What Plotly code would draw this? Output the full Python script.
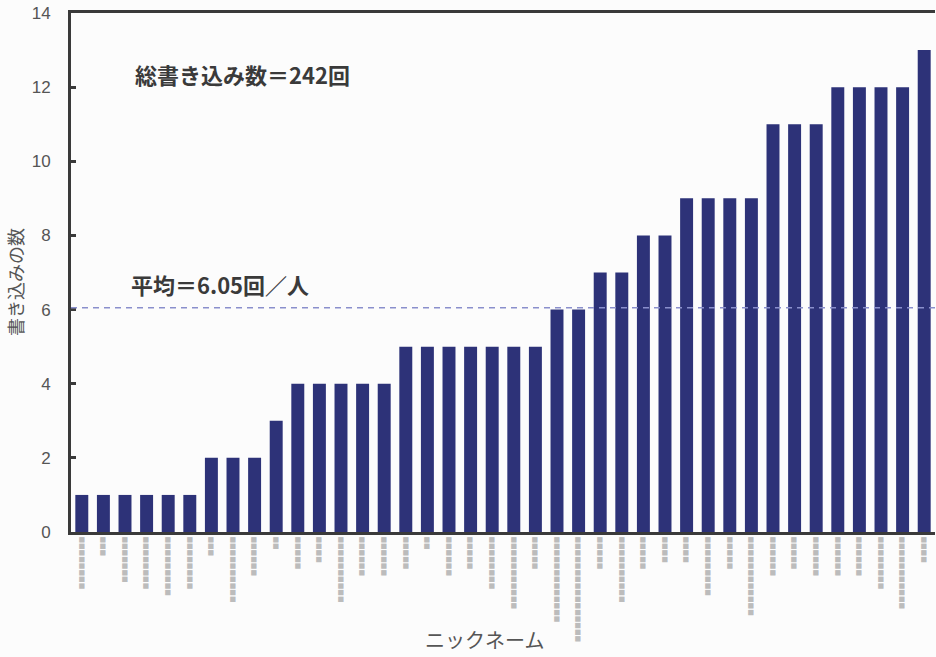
import plotly.graph_objects as go

# Nicknames are illegible (pixelated) in the reference; masked placeholders are used.
nick_ids = [f"n{i:02d}" for i in range(1, 41)]
posts = [1, 1, 1, 1, 1, 1, 2, 2, 2, 3,
         4, 4, 4, 4, 4, 5, 5, 5, 5, 5,
         5, 5, 6, 6, 7, 7, 8, 8, 9, 9,
         9, 9, 11, 11, 11, 12, 12, 12, 12, 13]
# approximate lengths (in masked characters) of the blurred nickname labels
label_chars = [8, 3, 7, 8, 9, 8, 3, 10, 6, 2, 5, 4, 10, 6, 6, 5, 2, 6, 5,
               8, 11, 5, 13, 16, 5, 10, 5, 4, 4, 9, 5, 12, 6, 5, 6, 6, 6, 8, 11, 4]
tick_text = ["■" * n for n in label_chars]
y_ticks = [0, 2, 4, 6, 8, 10, 12, 14]

total = sum(posts)
mean = total / len(posts)

L, R, T, B = 71, 1, 13, 125
W, H = 936, 657
pw, ph = W - L - R, H - T - B


def px_x(p):
    return (p - L) / pw


def px_y(p):
    return (H - B - p) / ph


fig = go.Figure()
fig.add_trace(go.Bar(
    x=nick_ids, y=posts,
    marker=dict(color="#2d3278", line=dict(width=0)),
    width=0.6,
))

fig.add_shape(type="line", xref="paper", x0=0, x1=1, yref="y", y0=mean, y1=mean,
              line=dict(color="#8a8fcc", width=1.5, dash="6px,5px"))

fig.add_annotation(x=2.37, y=12.35, xref="x", yref="y", xanchor="left", yanchor="middle",
                   text=f"<b>総書き込み数＝{total}回</b>", showarrow=False,
                   font=dict(family="Noto Sans CJK JP", size=22, color="#3a3a3a"))
fig.add_annotation(x=2.2, y=6.68, xref="x", yref="y", xanchor="left", yanchor="middle",
                   text=f"<b>平均＝{mean:.2f}回／人</b>", showarrow=False,
                   font=dict(family="Noto Sans CJK JP", size=22, color="#3a3a3a"))

# axis titles
fig.add_annotation(x=px_x(15), y=px_y(282), xref="paper", yref="paper", text="書き込みの数",
                   showarrow=False, textangle=-90, xanchor="center", yanchor="middle",
                   font=dict(family="Noto Sans CJK JP", size=18, color="#555555"))
fig.add_annotation(x=px_x(484), y=px_y(655), xref="paper", yref="paper", text="ニックネーム",
                   showarrow=False, xanchor="center", yanchor="bottom", borderpad=0,
                   font=dict(family="Noto Sans CJK JP", size=20, color="#555555"))

fig.update_layout(
    width=W, height=H,
    margin=dict(l=L, r=R, t=T, b=B),
    paper_bgcolor="#fcfcfc", plot_bgcolor="#fcfcfc",
    showlegend=False,
    bargap=0.4,
)
fig.update_xaxes(
    range=[-0.5, 39.5],
    tickmode="array", tickvals=nick_ids, ticktext=tick_text, tickangle=90,
    tickfont=dict(family="DejaVu Sans", size=7, color="#bcbcbc"),
    showline=True, linewidth=3, linecolor="#3a3a3a", mirror=True,
    ticks="", showgrid=False, zeroline=False,
)
fig.update_yaxes(
    range=[0, 14], tickvals=y_ticks,
    tickfont=dict(family="Liberation Sans", size=17, color="#555555"),
    showline=True, linewidth=3, linecolor="#3a3a3a",
    ticks="inside", ticklen=5, tickwidth=3, tickcolor="#3a3a3a",
    ticklabelstandoff=14,
    showgrid=False, zeroline=False,
)

fig.write_html("out.html")
